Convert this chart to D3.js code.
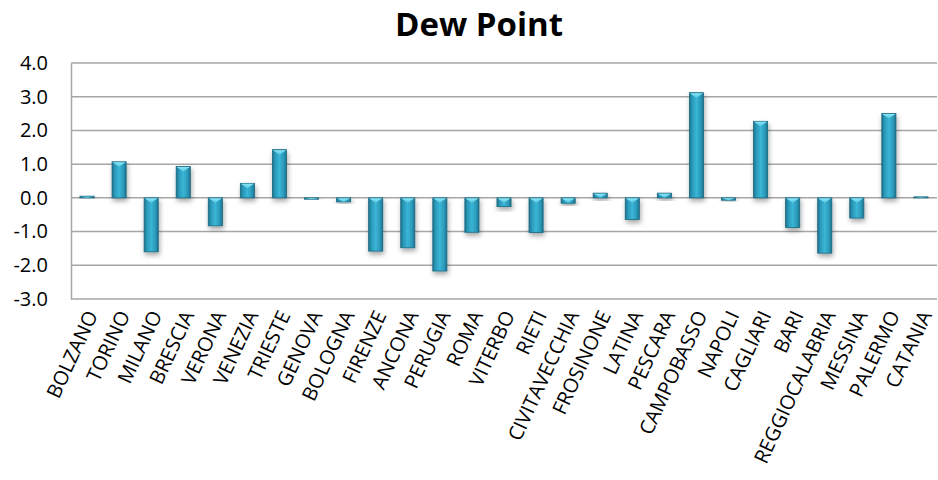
<!DOCTYPE html>
<html>
<head>
<meta charset="utf-8">
<script src="https://cdn.jsdelivr.net/npm/d3@7"></script>
<style>
  html, body { margin: 0; padding: 0; background: #fff; }
  svg { display: block; font-family: "Open Sans", "DejaVu Sans", sans-serif; }
</style>
</head>
<body>
<svg id="chart" width="938" height="480"></svg>
<script>
// Dew point deviation by city
const cities = ["BOLZANO", "TORINO", "MILANO", "BRESCIA", "VERONA", "VENEZIA", "TRIESTE",
  "GENOVA", "BOLOGNA", "FIRENZE", "ANCONA", "PERUGIA", "ROMA", "VITERBO", "RIETI",
  "CIVITAVECCHIA", "FROSINONE", "LATINA", "PESCARA", "CAMPOBASSO", "NAPOLI", "CAGLIARI",
  "BARI", "REGGIOCALABRIA", "MESSINA", "PALERMO", "CATANIA"];
const dewPoint = [0.05, 1.07, -1.6, 0.93, -0.83, 0.43, 1.43,
  -0.04, -0.12, -1.58, -1.48, -2.17, -1.02, -0.26, -1.03,
  -0.16, 0.14, -0.64, 0.14, 3.12, -0.07, 2.27,
  -0.88, -1.64, -0.6, 2.5, 0.03];
const yTicks = [4, 3, 2, 1, 0, -1, -2, -3];
const title = "Dew Point";

const svg = d3.select("#chart");
const margin = { left: 71, right: 1, top: 63, bottom: 181 };
const W = 938, H = 480;

const x = d3.scaleBand()
  .domain(cities)
  .range([margin.left, W - margin.right])
  .paddingInner(0.56)
  .paddingOuter(0.28);

const y = d3.scaleLinear()
  .domain([-3, 4])
  .range([H - margin.bottom, margin.top]);

// Gradients and shadow
const defs = svg.append("defs");
const grad = defs.append("linearGradient").attr("id", "barBody")
  .attr("x1", "0%").attr("x2", "100%").attr("y1", "0%").attr("y2", "0%");
grad.append("stop").attr("offset", "0%").attr("stop-color", "#1d6f88");
grad.append("stop").attr("offset", "18%").attr("stop-color", "#2a97b8");
grad.append("stop").attr("offset", "50%").attr("stop-color", "#3ab6d6");
grad.append("stop").attr("offset", "82%").attr("stop-color", "#2a97b8");
grad.append("stop").attr("offset", "100%").attr("stop-color", "#1d6f88");

const capGrad = defs.append("linearGradient").attr("id", "barCap")
  .attr("x1", "0%").attr("x2", "0%").attr("y1", "0%").attr("y2", "100%");
capGrad.append("stop").attr("offset", "0%").attr("stop-color", "#8ae3f4");
capGrad.append("stop").attr("offset", "100%").attr("stop-color", "#55c8e4");

const shadow = defs.append("filter").attr("id", "barShadow")
  .attr("x", "-50%").attr("y", "-50%").attr("width", "200%").attr("height", "200%");
shadow.append("feDropShadow")
  .attr("dx", 1).attr("dy", 3).attr("stdDeviation", 2.5)
  .attr("flood-color", "#000").attr("flood-opacity", 0.35);

// Title
svg.append("text")
  .attr("x", 479).attr("y", 36)
  .attr("text-anchor", "middle")
  .attr("font-size", 33).attr("font-weight", "bold")
  .attr("fill", "#000")
  .text(title);

// Gridlines
svg.append("g").selectAll("line")
  .data(yTicks)
  .join("line")
  .attr("x1", margin.left).attr("x2", W - margin.right)
  .attr("y1", d => y(d)).attr("y2", d => y(d))
  .attr("stroke", "#a6a6a6").attr("stroke-width", 1.5);

// Y axis
const yAxis = svg.append("g")
  .attr("transform", `translate(${margin.left},0)`)
  .call(d3.axisLeft(y).tickValues(yTicks).tickFormat(d3.format(".1f")).tickSize(0).tickPadding(23));
yAxis.select(".domain").attr("stroke", "#a6a6a6").attr("stroke-width", 1.5);
yAxis.selectAll("text")
  .attr("font-size", 20).attr("fill", "#000")
  .attr("font-family", "'Open Sans', sans-serif")
  .text(d => d3.format(".1f")(d).replace("−", "-"));

// Bars
const bars = svg.append("g").selectAll("g")
  .data(cities.map((c, i) => ({ c, v: dewPoint[i] })))
  .join("g");

bars.append("rect")
  .attr("x", d => x(d.c))
  .attr("y", d => y(Math.max(0, d.v)))
  .attr("width", x.bandwidth())
  .attr("height", d => Math.abs(y(d.v) - y(0)))
  .attr("fill", "url(#barBody)")
  .attr("stroke", "#1a6a82").attr("stroke-width", 0.8)
  .attr("filter", "url(#barShadow)");

bars.append("path")
  .attr("d", d => {
    const x0 = x(d.c), bw = x.bandwidth();
    const top = y(Math.max(0, d.v));
    const h = Math.min(5, Math.abs(y(d.v) - y(0)));
    return `M${x0 + 0.5},${top + 0.5}L${x0 + bw - 0.5},${top + 0.5}L${x0 + bw / 2},${top + h}Z`;
  })
  .attr("fill", "url(#barCap)");

// Category labels
svg.append("g").selectAll("text")
  .data(cities)
  .join("text")
  .attr("transform", d => `translate(${x(d) + x.bandwidth() / 2 + 5},${y(-3) + 13}) rotate(-65)`)
  .attr("text-anchor", "end")
  .attr("dy", "0.35em")
  .attr("font-size", 20)
  .attr("fill", "#000")
  .text(d => d);
</script>
</body>
</html>
